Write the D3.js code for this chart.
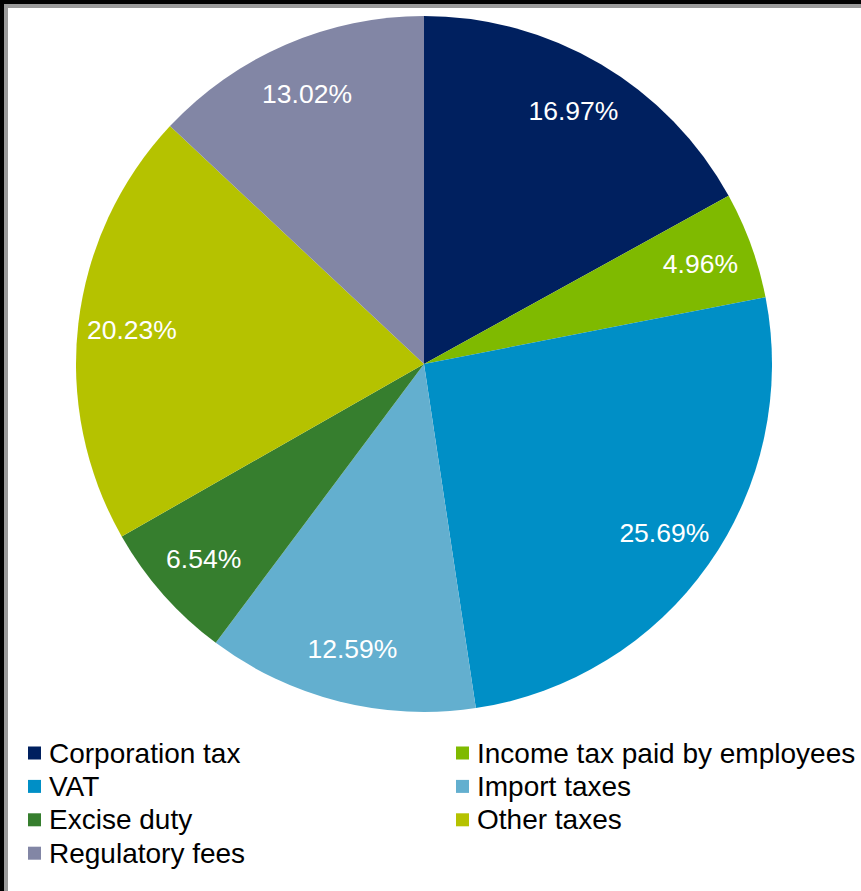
<!DOCTYPE html>
<html>
<head>
<meta charset="utf-8">
<script src="https://cdn.jsdelivr.net/npm/d3@7/dist/d3.min.js"></script>
<style>
  html, body { margin: 0; padding: 0; background: #000; }
  svg { display: block; }
</style>
</head>
<body>
<script>
const categories = ["Corporation tax", "Income tax paid by employees", "VAT", "Import taxes", "Excise duty", "Other taxes", "Regulatory fees"];
const values = [16.97, 4.96, 25.69, 12.59, 6.54, 20.23, 13.02];
const labels = ["16.97%", "4.96%", "25.69%", "12.59%", "6.54%", "20.23%", "13.02%"];
const colors = ["#00205F", "#7FBA00", "#008FC6", "#63AFCF", "#367E2E", "#B5C200", "#8286A5"];
// legend order: two columns, row-major
const legendOrder = ["Corporation tax", "Income tax paid by employees", "VAT", "Import taxes", "Excise duty", "Other taxes", "Regulatory fees"];

const W = 861, H = 891;
const svg = d3.select("body").append("svg").attr("width", W).attr("height", H);

// frame
svg.append("rect").attr("x", 0).attr("y", 0).attr("width", W).attr("height", H).attr("fill", "#000");
svg.append("rect").attr("x", 4).attr("y", 4).attr("width", W - 4).attr("height", H - 4).attr("fill", "#9a9a9a");
svg.append("rect").attr("x", 8).attr("y", 8).attr("width", W - 8).attr("height", H - 8).attr("fill", "#fff");

const cx = 424, cy = 364, r = 348;
const data = categories.map((c, i) => ({ name: c, value: values[i], label: labels[i], color: colors[i] }));

const pie = d3.pie().value(d => d.value).sort(null);
const arcs = pie(data);
const arc = d3.arc().innerRadius(0).outerRadius(r);
const labelArc = d3.arc().innerRadius(r * 0.845).outerRadius(r * 0.845);

const g = svg.append("g").attr("transform", `translate(${cx},${cy})`);
g.selectAll("path.slice").data(arcs).join("path")
  .attr("class", "slice")
  .attr("d", arc)
  .attr("fill", d => d.data.color);

g.selectAll("text.lbl").data(arcs).join("text")
  .attr("class", "lbl")
  .attr("transform", d => `translate(${labelArc.centroid(d)})`)
  .attr("text-anchor", "middle")
  .attr("dominant-baseline", "central")
  .attr("font-family", "'Liberation Sans', Arial, sans-serif")
  .attr("font-size", 26.5)
  .attr("fill", "#fff")
  .text(d => d.data.label);

// legend
const colX = [28, 456];
const rowY0 = 753, rowStep = 33.4;
const legend = svg.append("g");
legendOrder.forEach((name, i) => {
  const idx = categories.indexOf(name);
  const col = i % 2, row = Math.floor(i / 2);
  const x = colX[col], y = rowY0 + row * rowStep;
  legend.append("rect").attr("x", x).attr("y", y - 6.5).attr("width", 13).attr("height", 13).attr("fill", colors[idx]);
  legend.append("text")
    .attr("x", x + 21).attr("y", y)
    .attr("dominant-baseline", "central")
    .attr("font-family", "'Liberation Sans', Arial, sans-serif")
    .attr("font-size", 28)
    .attr("fill", "#000")
    .text(name);
});
</script>
</body>
</html>
